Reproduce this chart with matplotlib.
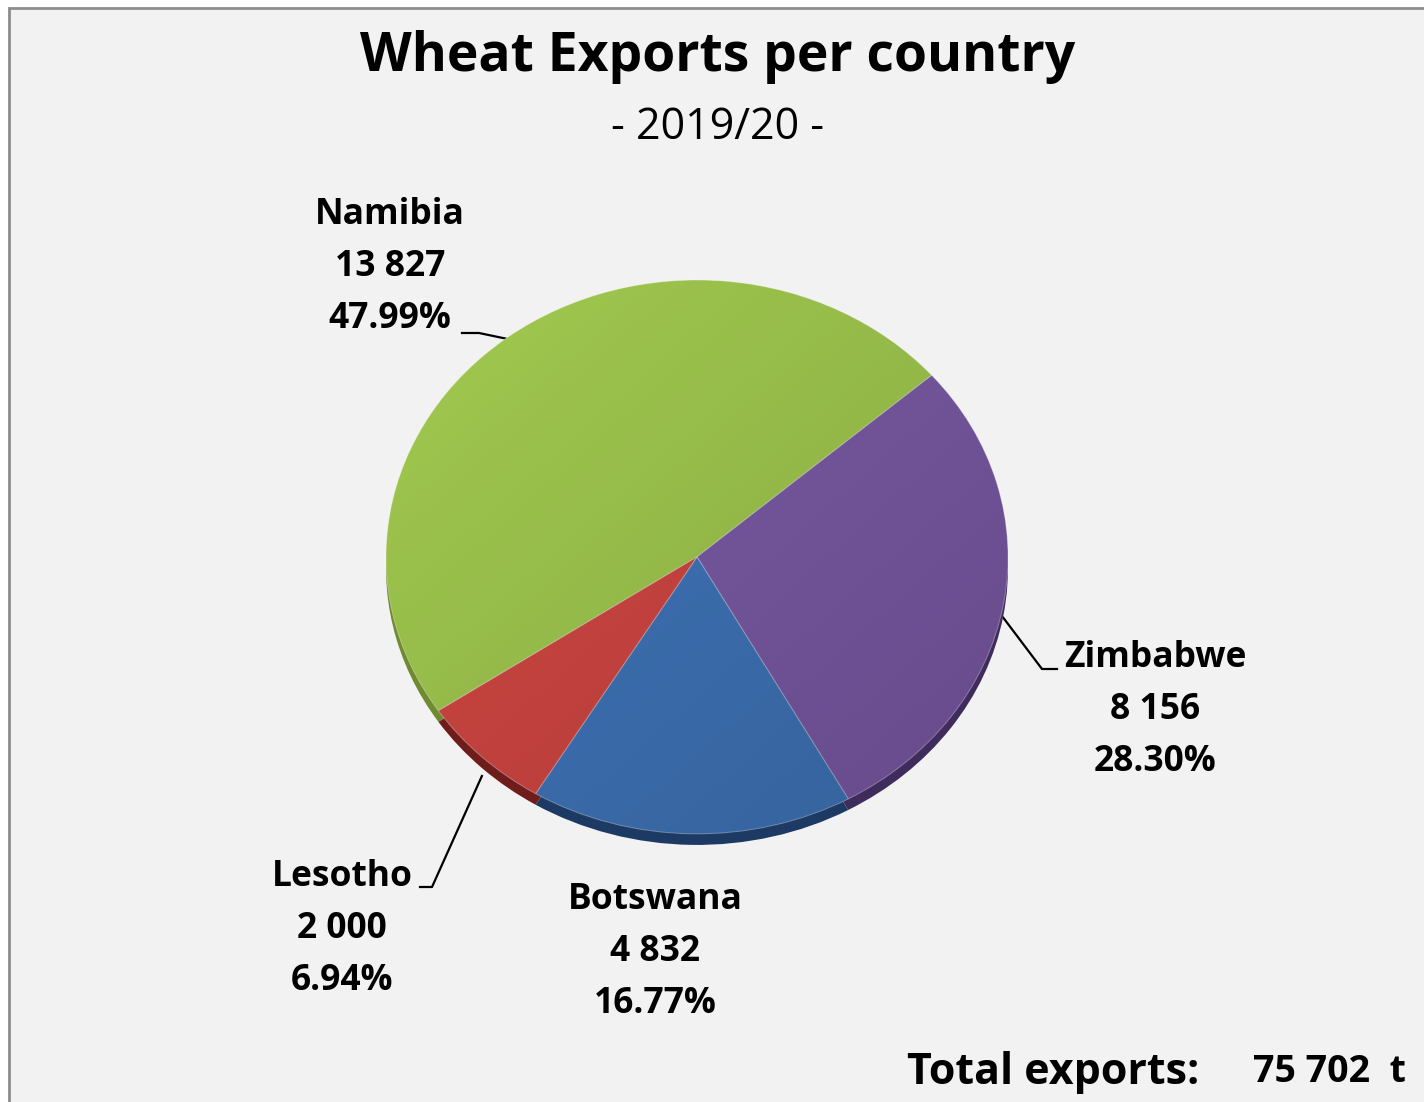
import matplotlib.pyplot as plt
import numpy as np
from matplotlib.patches import Rectangle, Circle

# data
countries = ["Namibia", "Zimbabwe", "Botswana", "Lesotho"]
tonnes = [13827, 8156, 4832, 2000]
shares = ["47.99%", "28.30%", "16.77%", "6.94%"]
volumes = ["13 827", "8 156", "4 832", "2 000"]
colors = ["#9dc44d", "#7858a2", "#3e72b5", "#cc4541"]
rim_colors = ["#6f8a30", "#3f2c5c", "#1c3a63", "#6e1d1b"]
total_label = "75 702  t"

W, H = 1424, 1102
FONT = "Open Sans"

fig = plt.figure(figsize=(W / 100, H / 100), dpi=100, facecolor="white")

# overlay in pixel coords for frame, texts and leader lines
ov = fig.add_axes([0, 0, 1, 1])
ov.set_xlim(0, W)
ov.set_ylim(H, 0)
ov.axis("off")
ov.add_patch(Rectangle((9, 8), W + 20, H + 20, facecolor="#f2f2f2",
                       edgecolor="#8c8c8c", lw=2))

# pie geometry (pixels): slightly squashed, like the 3-D Excel pie
cx, cy, rx, ry = 697, 568, 311, 288
start = 41 + 360 * tonnes[0] / sum(tonnes)

pax = fig.add_axes([(cx - rx) / W, 1 - (cy + ry) / H, 2 * rx / W, 2 * ry / H])
pax.set_zorder(2)
pax.patch.set_alpha(0)
# side of the pie
pax.pie(tonnes, colors=rim_colors, startangle=start, counterclock=False,
        center=(0, -0.04), radius=1, wedgeprops=dict(linewidth=0))
wedges, _ = pax.pie(tonnes, colors=colors, startangle=start, counterclock=False,
                    radius=1, wedgeprops=dict(linewidth=0.7, edgecolor=(1, 1, 1, 0.35)))

# soft shading over the face: light top-left, darker bottom-right
gx, gy = np.meshgrid(np.linspace(-1, 1, 200), np.linspace(1, -1, 200))
t = np.clip((gx - gy) / 2.8 + 0.5, 0, 1)
shade = np.zeros((200, 200, 4))
shade[..., 3] = 0.12 * t
img = pax.imshow(shade, extent=(-1, 1, -1, 1), zorder=5, aspect="auto")
img.set_clip_path(Circle((0, 0), 1, transform=pax.transData))

pax.set_xlim(-1, 1)
pax.set_ylim(-1.08, 1)
pax.set_aspect("auto")
pax.axis("off")

# label layout (pixel centres of the first line, leader bends)
label_pos = {
    "Namibia": (390, 215),
    "Zimbabwe": (1155, 658),
    "Botswana": (655, 900),
    "Lesotho": (342, 877),
}
bends = {
    "Namibia": [(462, 333), (479, 333)],
    "Zimbabwe": [(1057, 669), (1042, 669)],
    "Lesotho": [(420, 887), (432, 887)],
}
line_gap = 52

for w, name, vol, pct in zip(wedges, countries, volumes, shares):
    x, y = label_pos[name]
    for i, s in enumerate([name, vol, pct]):
        ov.text(x, y + i * line_gap, s, ha="center", va="center",
                fontsize=25.5, fontweight="bold", family=FONT, color="black")
    if name in bends:
        mid = np.deg2rad((w.theta1 + w.theta2) / 2)
        ex = cx + rx * np.cos(mid)
        ey = cy - ry * np.sin(mid)
        pts = bends[name] + [(ex, ey)]
        ov.plot([p[0] for p in pts], [p[1] for p in pts], color="black", lw=1.6,
                zorder=3)

ov.text(718, 57, "Wheat Exports per country", ha="center", va="center",
        fontsize=38.5, fontweight="bold", family=FONT)
ov.text(718, 128, "- 2019/20 -", ha="center", va="center", fontsize=31,
        family=FONT)
ov.text(907, 1072, "Total exports:", ha="left", va="center", fontsize=31,
        fontweight="bold", family=FONT)
ov.text(1253, 1072, total_label, ha="left", va="center", fontsize=27,
        fontweight="bold", family=FONT)

fig.savefig("out.png", dpi=100, facecolor=fig.get_facecolor())
